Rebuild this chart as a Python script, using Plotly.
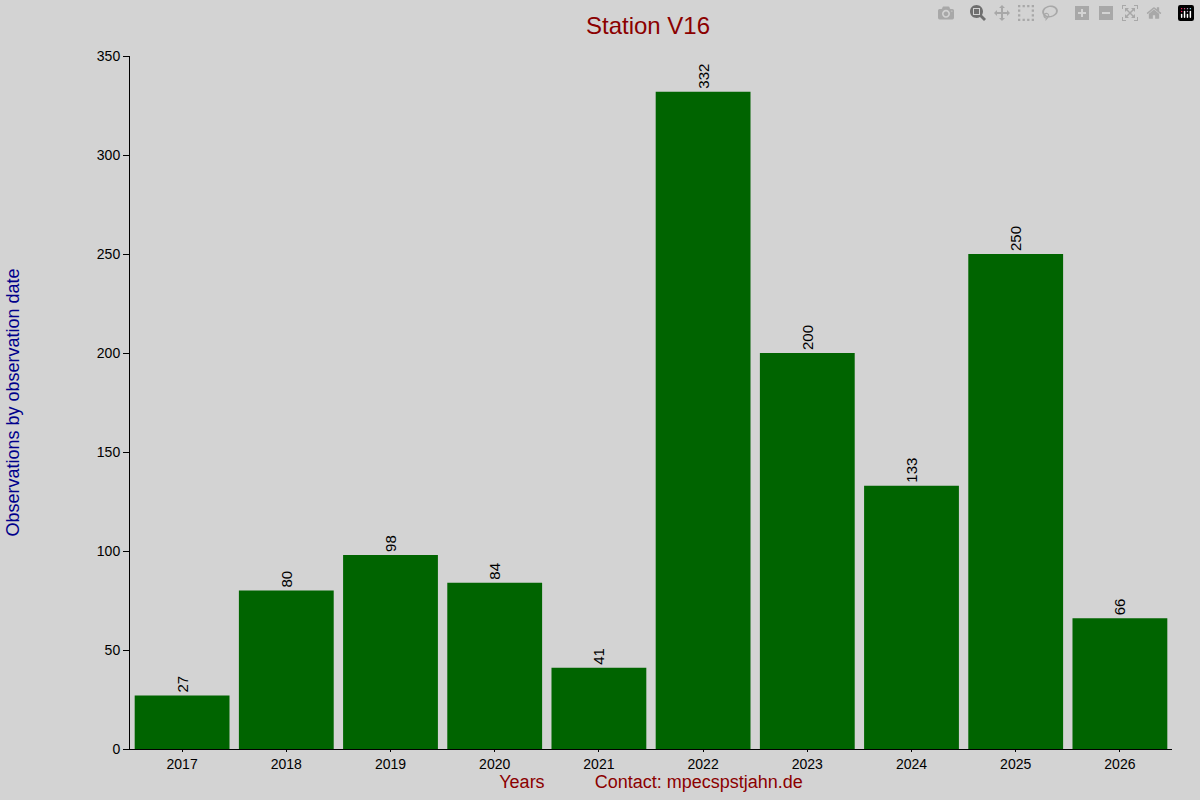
import plotly.graph_objects as go

years = ["2017", "2018", "2019", "2020", "2021", "2022", "2023", "2024", "2025", "2026"]
counts = [27, 80, 98, 84, 41, 332, 200, 133, 250, 66]

fig = go.Figure()
fig.add_trace(go.Bar(x=years, y=counts, marker_color="#006400", marker_line_width=0,
                     text=[str(c) + " " for c in counts], textposition="outside",
                     textangle=-90, textfont=dict(size=15, color="black"),
                     cliponaxis=False))

fig.update_layout(
    width=1200, height=800,
    paper_bgcolor="#d3d3d3", plot_bgcolor="#d3d3d3",
    font=dict(family="Liberation Sans, Arial", size=14, color="black"),
    title=dict(text="Station V16", x=0.54, xanchor="center", y=0.978,
               font=dict(size=24, color="#8b0000")),
    margin=dict(l=126, r=28, t=56, b=49),
    bargap=0.09, showlegend=False,
)
fig.update_xaxes(showline=True, linecolor="black", ticks="outside", ticklen=2,
                 tickcolor="black", showgrid=False,
                 title=dict(text="Years          Contact: mpecspstjahn.de",
                            font=dict(size=18, color="#8b0000"), standoff=4))
fig.update_yaxes(range=[0, 350], dtick=50, showline=True, linecolor="black",
                 ticks="outside", ticklen=6, tickcolor="black", showgrid=False,
                 zeroline=False,
                 title=dict(text="Observations by observation date",
                            font=dict(size=18, color="#00008b"), standoff=72))

fig.write_html("out.html", post_script="document.body.style.margin='0';")
